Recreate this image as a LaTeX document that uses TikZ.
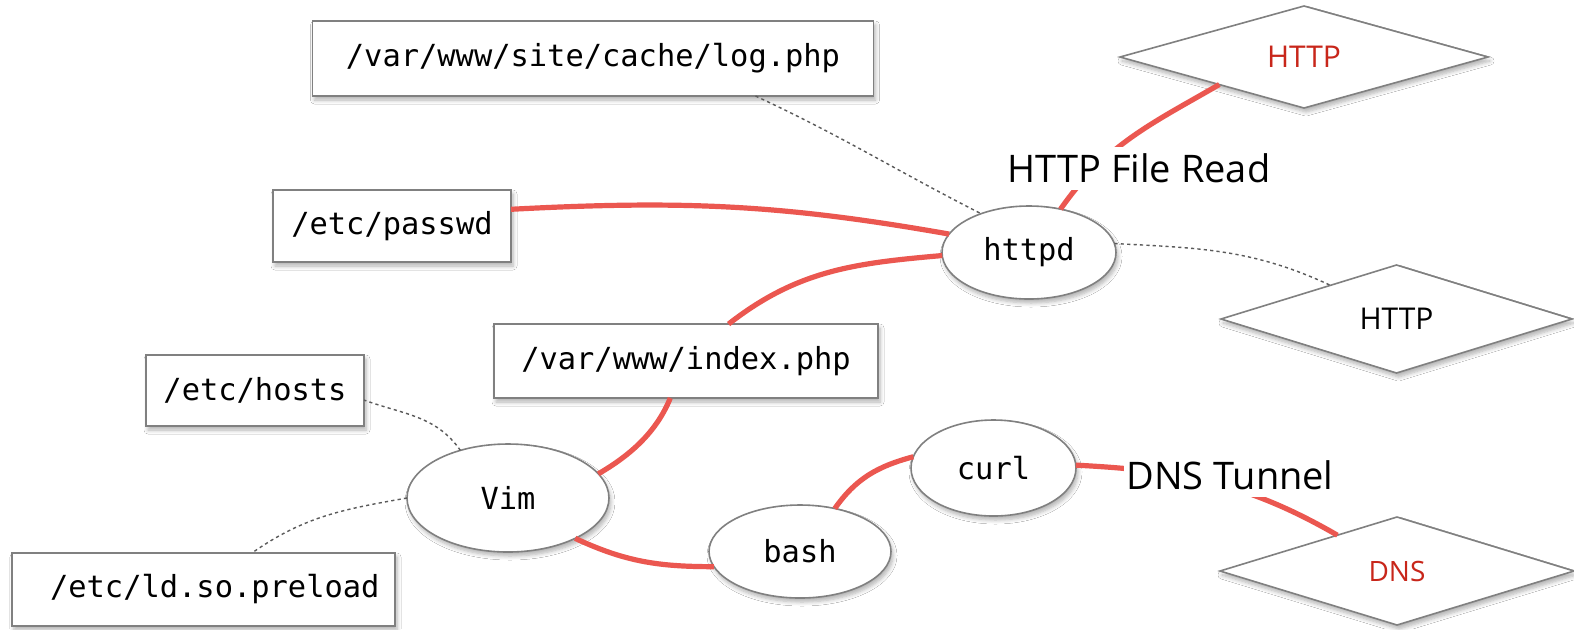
\documentclass[tikz,border=0pt]{standalone}
\usepackage{fontspec}
\setmainfont{Open Sans}
\setmonofont{DejaVu Sans Mono}
\usetikzlibrary{shapes.geometric,shadows.blur}
\definecolor{edgered}{RGB}{235,87,80}
\definecolor{textred}{RGB}{200,38,26}
\definecolor{bordergray}{RGB}{128,128,128}
\definecolor{dotgray}{RGB}{90,90,90}
\tikzset{
  base/.style={draw=bordergray, line width=0.8pt, fill=white, inner sep=0pt, outer sep=0pt,
    blur shadow={shadow xshift=1pt, shadow yshift=-2pt, shadow blur steps=6, shadow opacity=30, shadow blur radius=2pt}},
  filebox/.style={base, rectangle, font=\fontsize{15.2}{18}\ttfamily},
  proc/.style={base, ellipse, font=\fontsize{15.2}{18}\ttfamily},
  proto/.style={base, diamond, font=\fontsize{15}{18}\selectfont},
  redlink/.style={draw=edgered, line width=2.6pt},
  dotlink/.style={draw=dotgray, line width=0.7pt, dash pattern=on 1.6pt off 1.6pt},
  linklabel/.style={fill=white, inner xsep=1pt, inner ysep=0pt, minimum height=21.5pt, font=\fontsize{19}{22}\selectfont, text=black}
}
\begin{document}
\begin{tikzpicture}[x=0.5pt,y=-0.5pt]
\path[use as bounding box, fill=white] (0,0) rectangle (1574,629);

% file boxes
\node[filebox, minimum width=280.5pt, minimum height=37.5pt] (log) at (593,58.5) {/var/www/site/cache/log.php};
\node[filebox, minimum width=119pt, minimum height=36pt] (passwd) at (392,226) {/etc/passwd};
\node[filebox, minimum width=192pt, minimum height=37pt] (index) at (686,361) {/var/www/index.php};
\node[filebox, minimum width=109pt, minimum height=35.5pt] (hosts) at (255,390.5) {/etc/hosts};
\node[filebox, minimum height=36.5pt, text width=176pt, inner xsep=7.75pt, align=right] (preload) at (203.5,589.5) {/etc/ld.so.preload};

% processes
\node[proc, minimum width=101pt, minimum height=54pt] (vim) at (508,498) {Vim};
\node[proc, minimum width=91pt, minimum height=46.5pt] (bash) at (800,551.5) {bash};
\node[proc, minimum width=82.5pt, minimum height=48pt] (curl) at (993.5,468) {curl};
\node[proc, minimum width=87pt, minimum height=46.5pt] (httpd) at (1029,252.5) {httpd};

% protocols
\node[proto, minimum width=184pt, minimum height=51pt, text=textred] (httpR) at (1304,57) {HTTP};
\node[proto, minimum width=175.5pt, minimum height=54pt] (httpB) at (1396.5,319) {HTTP};
\node[proto, minimum width=177pt, minimum height=54pt, text=textred, font=\fontsize{14}{17}\selectfont] (dns) at (1397,571) {DNS};

% dotted links
\draw[dotlink] (log.-13) to[out=-25,in=153] (httpd.141);
\draw[dotlink] (httpd.6) to[out=-3,in=155] (httpB.153);
\draw[dotlink] (vim.135) to[out=125,in=-20] (hosts.-5);
\draw[dotlink] (vim.180) to[out=190,in=35] (preload.37);

% red links
\draw[redlink] (passwd.8.6) to[out=3,in=170] (httpd.167);
\draw[redlink] (index.41.4) to[out=38,in=185] (httpd.182);
\draw[redlink] (httpd.54) to[out=55,in=210] (httpR.198);
\draw[redlink] (vim.15) to[out=30,in=-112, looseness=0.9] (index.-113.4);
\draw[redlink] (vim.-31) to[out=-25,in=180] (bash.190);
\draw[redlink] (bash.51) to[out=55,in=195] (curl.172);
\draw[redlink] (curl.2) to[out=-3,in=150] (dns.149);

% link labels
\node[linklabel] (lblhttp) at (1139,168.5) {HTTP File Read};
\node[linklabel] (lbldns) at (1230,475) {DNS Tunnel};
\end{tikzpicture}
\end{document}
